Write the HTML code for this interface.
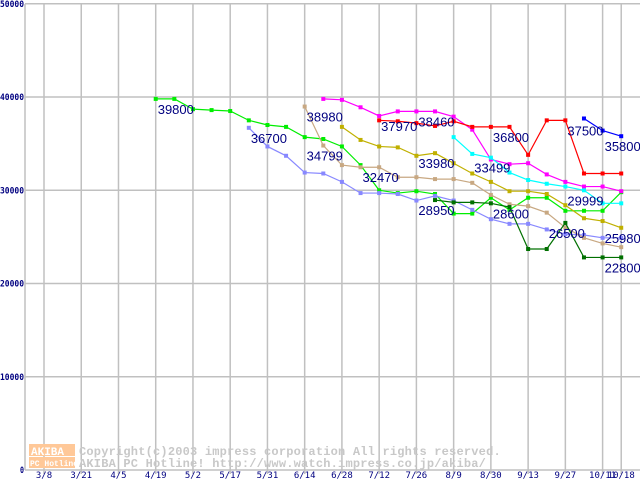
<!DOCTYPE html>
<html><head><meta charset="utf-8"><style>
body{margin:0;background:#fff}
</style></head><body>
<svg id="chart" width="640" height="480" viewBox="0 0 640 480" xmlns="http://www.w3.org/2000/svg">
<g id="grid"></g>
<g id="wm">
<rect x="29" y="444" width="46" height="12" fill="#ffc898"/>
<rect x="29" y="457" width="46" height="11" fill="#ffc898"/>
<text x="31" y="455" font-size="11" fill="#fff" font-weight="bold" style="font-family:'Liberation Mono',monospace">AKIBA</text>
<text x="30" y="466" font-size="8" fill="#fff" font-weight="bold" style="font-family:'Liberation Mono',monospace">PC Hotline!</text>
<text x="79" y="455" font-size="12" fill="#c8c8c8" font-weight="bold" style="font-family:'Liberation Mono',monospace;letter-spacing:0.2px">Copyright(c)2003 impress corporation All rights reserved.</text>
<text x="79" y="467" font-size="12" fill="#c8c8c8" font-weight="bold" style="font-family:'Liberation Mono',monospace;letter-spacing:0.2px">AKIBA PC Hotline!  http://www.watch.impress.co.jp/akiba/</text>
</g>
<g id="series"></g>
<g id="labels"></g>
</svg>
<script>
const xLabels=["3/8","3/21","4/5","4/19","5/2","5/17","5/31","6/14","6/28","7/12","7/26","8/9","8/30","9/13","9/27","10/11","10/18"];
const yTicks=[0,10000,20000,30000,40000,50000];
const sGreen=[[6,39800],[7,39800],[8,38700],[9,38600],[10,38500],[11,37500],[12,37000],[13,36800],[14,35700],[15,35500],[16,34700],[17,32700],[18,30000],[19,29700],[20,29900],[21,29600],[22,27500],[23,27500],[24,29200],[25,27900],[26,29200],[27,29200],[28,27800],[29,27800],[30,27800],[31,29800]];
const sLightBlue=[[11,36700],[12,34700],[13,33700],[14,31900],[15,31800],[16,30900],[17,29700],[18,29700],[19,29600],[20,28900],[21,29400],[22,28900],[23,27900],[24,26900],[25,26400],[26,26400],[27,25800],[28,25300],[29,25200],[30,24900],[31,24900]];
const sTan=[[14,38980],[15,34799],[16,32700],[17,32470],[18,32470],[19,31400],[20,31400],[21,31200],[22,31200],[23,30800],[24,29500],[25,28500],[26,28300],[27,27600],[28,26000],[29,24900],[30,24300],[31,23900]];
const sOlive=[[16,36800],[17,35400],[18,34700],[19,34600],[20,33700],[21,33980],[22,32900],[23,31800],[24,30900],[25,29900],[26,29900],[27,29600],[28,28400],[29,27000],[30,26700],[31,25980]];
const sMagenta=[[15,39800],[16,39700],[17,38900],[18,37970],[19,38460],[20,38460],[21,38460],[22,37900],[23,36500],[24,33300],[25,32800],[26,32900],[27,31700],[28,30900],[29,30400],[30,30400],[31,29900]];
const sRed=[[18,37500],[19,37400],[20,37200],[21,36900],[22,37400],[23,36800],[24,36800],[25,36800],[26,33800],[27,37500],[28,37500],[29,31800],[30,31800],[31,31800]];
const sCyan=[[22,35700],[23,33900],[24,33499],[25,31900],[26,31100],[27,30700],[28,30400],[29,29999],[30,28600],[31,28600]];
const sDarkGreen=[[21,28950],[22,28700],[23,28700],[24,28600],[25,28200],[26,23700],[27,23700],[28,26500],[29,22800],[30,22800],[31,22800]];
const sBlue=[[29,37700],[30,36400],[31,35800]];
const seriesList=[["green",sGreen,"#00ee00"],["light-blue",sLightBlue,"#8888ff"],["tan",sTan,"#c8a882"],["olive",sOlive,"#c0b000"],["magenta",sMagenta,"#ff00ff"],["red",sRed,"#ff0000"],["cyan",sCyan,"#00ffff"],["dark-green",sDarkGreen,"#007000"],["blue",sBlue,"#0000ff"]];
const valueLabels=[[6,39800,"39800"],[11,36700,"36700"],[14,38980,"38980"],[14,34799,"34799"],[17,32470,"32470"],[18,37970,"37970"],[20,38460,"38460"],[20,33980,"33980"],[20,28950,"28950"],[23,33499,"33499"],[24,28600,"28600"],[24,36800,"36800"],[28,37500,"37500"],[27,26500,"26500"],[28,29999,"29999"],[30,35800,"35800"],[30,25980,"25980"],[30,22800,"22800"]];
const NS="http://www.w3.org/2000/svg";
function X(i){return 44+i*18.62;}
function Y(v){return 470-v*0.009324;}
function mk(t,a,p){const e=document.createElementNS(NS,t);for(const k in a)e.setAttribute(k,a[k]);p.appendChild(e);return e;}
const g=document.getElementById('grid');
yTicks.forEach(v=>{
 const l=mk('line',{x1:25,x2:640,y1:Y(v),y2:Y(v),stroke:'#c0c0c0','stroke-width':1.5},g);
 
 
 const s=String(v);
 const a={x:25-s.length*5,y:Y(v)+3,'font-size':9,'font-weight':'bold',fill:'#000080',style:"font-family:'DejaVu Sans Mono',monospace"};
 a.textLength=s.length*5-1;
 a.lengthAdjust='spacingAndGlyphs';
 const t=mk('text',a,g);
 t.textContent=s;
 
 
});
mk('line',{x1:25,x2:25,y1:4,y2:470,stroke:'#c0c0c0','stroke-width':1.5},g);
xLabels.forEach((s,k)=>{
 const i=k<16?k*2:31;
 const l=mk('line',{x1:X(i),x2:X(i),y1:4,y2:474,stroke:'#c0c0c0','stroke-width':1.5},g);
 
 
 const t=mk('text',{x:X(i),y:478,'font-size':9,fill:'#000080','text-anchor':'middle',style:"font-family:'DejaVu Sans Mono',monospace"},g);
 t.textContent=s;
 
 
});
const sg=document.getElementById('series');
seriesList.forEach(([n,d,c])=>{
 const p=mk('polyline',{points:d.map(q=>X(q[0])+','+Y(q[1])).join(' '),fill:'none',stroke:c,'stroke-width':1.2},sg);
 
 
 d.forEach(q=>{
  const r=mk('rect',{x:X(q[0])-2,y:Y(q[1])-2,width:4,height:4,fill:c},sg);
  
  
 });
});
const lg=document.getElementById('labels');
valueLabels.forEach(([i,v,s])=>{
 const t=mk('text',{x:X(i)+2,y:Y(v)+15,'font-size':13,fill:'#000080',style:"font-family:'Liberation Sans',sans-serif"},lg);
 t.textContent=s;
 
 
});
</script>
</body></html>
